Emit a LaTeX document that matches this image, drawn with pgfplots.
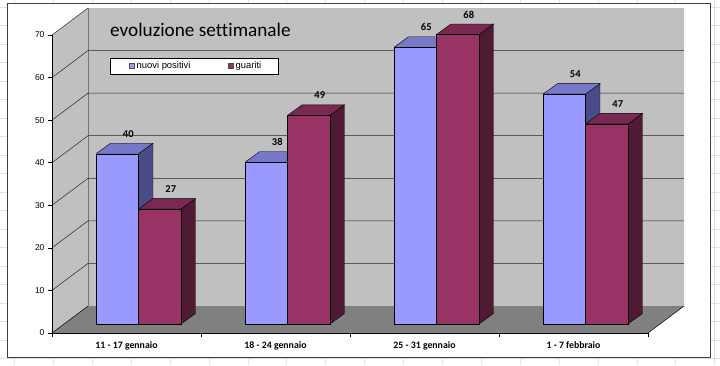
\documentclass[border=0pt]{standalone}
\usepackage{pgfplots}
\pgfplotsset{compat=1.18}
\usepackage{pgfplotstable}
\usepackage{fontspec}
\setmainfont{Liberation Sans}
\newfontfamily\carlito[Ligatures=NoCommon]{Carlito}

\definecolor{wall}{HTML}{C0C0C0}
\definecolor{floorc}{HTML}{808080}
\definecolor{bluef}{HTML}{9999FF}
\definecolor{bluet}{HTML}{7878C8}
\definecolor{blues}{HTML}{4B4B87}
\definecolor{purf}{HTML}{993366}
\definecolor{purt}{HTML}{7A2952}
\definecolor{purs}{HTML}{4F1A33}
\definecolor{xlgrid}{HTML}{DDDFE0}

\pgfplotstableread{
idx np gu
0 40 27
1 38 49
2 65 68
3 54 47
}\data

% geometry in axis units
\def\Dx{0.2416}\def\Dy{6.342}
\def\bw{0.285}\def\ddx{0.0973}\def\ddy{2.466}\def\base{2.114}

\newcommand\drawbar[5]{%
 \pgfmathsetmacro\xL{#1}%
 \pgfmathsetmacro\xR{#1+\bw}%
 \pgfmathsetmacro\xLd{#1+\ddx}%
 \pgfmathsetmacro\xRd{#1+\bw+\ddx}%
 \pgfmathsetmacro\yB{\base}%
 \pgfmathsetmacro\yBd{\base+\ddy}%
 \pgfmathsetmacro\yT{#2+\base}%
 \pgfmathsetmacro\yTd{#2+\base+\ddy}%
 \addplot[fill=#5, draw=black, line width=0.4pt] coordinates {(\xR,\yB) (\xRd,\yBd) (\xRd,\yTd) (\xR,\yT) (\xR,\yB)};
 \addplot[fill=#4, draw=black, line width=0.4pt] coordinates {(\xL,\yT) (\xR,\yT) (\xRd,\yTd) (\xLd,\yTd) (\xL,\yT)};
 \addplot[fill=#3, draw=black, line width=0.4pt] coordinates {(\xL,\yB) (\xR,\yB) (\xR,\yT) (\xL,\yT) (\xL,\yB)};
}

\begin{document}
\begin{tikzpicture}
\path[use as bounding box] (0,0) rectangle (720pt,365pt);
\clip (0,0) rectangle (720pt,365pt);
\fill[white] (0,0) rectangle (720pt,365pt);
\foreach \k in {0,...,18} {\draw[xlgrid, line width=0.6pt] ({(14.4+38.9*\k)*1pt},0) -- ++(0,365pt);}
\foreach \k in {-1,...,18} {\draw[xlgrid, line width=0.6pt] (0,{(365-340+18.5*\k)*1pt}) -- ++(720pt,0);}
\draw[fill=white, draw=black!75, line width=0.7pt] (7pt,8pt) rectangle (710pt,362pt);

\begin{axis}[
 at={(52pt,32pt)}, anchor=south west,
 scale only axis, width=596pt, height=298pt,
 xmin=0, xmax=4, ymin=0, ymax=70,
 clip=false, axis on top,
 axis x line*=bottom, axis y line*=left,
 axis line style={black, line width=0.6pt, -},
 ytick={0,10,...,70},
 xtick={0,1,2,3,4}, xticklabels={},
 extra x ticks={0.5,1.5,2.5,3.5},
 extra x tick labels={11 - 17 gennaio, 18 - 24 gennaio, 25 - 31 gennaio, 1 - 7 febbraio},
 extra x tick style={major tick length=0pt, tick label style={font=\carlito\bfseries\fontsize{9.8}{10}\selectfont, yshift=-5pt}},
 tick align=outside, major tick length=4pt,
 tick style={black, line width=0.6pt},
 yticklabel style={font=\fontsize{8.5}{9}\selectfont},
 /pgf/number format/assume math mode=true,
]
% walls and floor
\addplot[fill=wall, draw=none] coordinates {(0,0) (\Dx,\Dy) (\Dx,76.342) (0,70) (0,0)};
\addplot[fill=wall, draw=none] coordinates {(\Dx,\Dy) (4.2416,\Dy) (4.2416,76.342) (\Dx,76.342) (\Dx,\Dy)};
\addplot[fill=floorc, draw=none] coordinates {(0,0) (4,0) (4.2416,\Dy) (\Dx,\Dy) (0,0)};
\addplot[black, line width=0.5pt] coordinates {(0,0) (\Dx,\Dy)};
\addplot[black, line width=0.5pt] coordinates {(4,0) (4.2416,\Dy)};
\addplot[black!55, line width=0.6pt] coordinates {(\Dx,\Dy) (\Dx,76.342)};
% gridlines
\pgfplotsinvokeforeach{10,20,30,40,50,60}{
 \pgfmathsetmacro\yy{#1+\Dy}
 \addplot[black!85, line width=0.5pt] coordinates {(0,#1) (\Dx,\yy) (4.2416,\yy)};
}
\addplot[black!85, line width=0.5pt] coordinates {(0,70) (\Dx,76.342)};
% bars
\pgfplotsinvokeforeach{0,1,2,3}{
 \pgfplotstablegetelem{#1}{np}\of\data
 \edef\vA{\pgfplotsretval}
 \pgfplotstablegetelem{#1}{gu}\of\data
 \edef\vB{\pgfplotsretval}
 \drawbar{#1+0.2955}{\vA}{bluef}{bluet}{blues}
 \drawbar{#1+0.5805}{\vB}{purf}{purt}{purs}
}
% data labels
\addplot[draw=none, mark=none, nodes near coords, point meta=explicit,
 every node near coord/.append style={anchor=center, font=\carlito\bfseries\fontsize{10.5}{11}\selectfont, text=black}]
 table[x expr=\thisrow{idx}+0.512, y expr=\thisrow{np}+6.81, meta=np]{\data};
\addplot[draw=none, mark=none, nodes near coords, point meta=explicit,
 every node near coord/.append style={anchor=center, font=\carlito\bfseries\fontsize{10.5}{11}\selectfont, text=black}]
 table[x expr=\thisrow{idx}+0.797, y expr=\thisrow{gu}+6.81, meta=gu]{\data};
\end{axis}

% title
\node[anchor=base west, inner sep=0pt, font=\carlito\fontsize{19.2}{22}\selectfont] at (110pt,328pt) {evoluzione settimanale};
% legend
\draw[fill=white, draw=black, line width=0.6pt] (110pt,307pt) rectangle (278pt,291pt);
\draw[fill=bluef, draw=black!70, line width=0.4pt] (129.3pt,296.3pt) rectangle (134.3pt,301.3pt);
\node[anchor=base west, inner sep=0pt, font=\fontsize{9.4}{11}\selectfont] at (136.5pt,296.3pt) {nuovi positivi};
\draw[fill=purf, draw=black!70, line width=0.4pt] (228.3pt,296.3pt) rectangle (233.3pt,301.3pt);
\node[anchor=base west, inner sep=0pt, font=\fontsize{9.4}{11}\selectfont] at (235.5pt,296.3pt) {guariti};
\end{tikzpicture}
\end{document}
